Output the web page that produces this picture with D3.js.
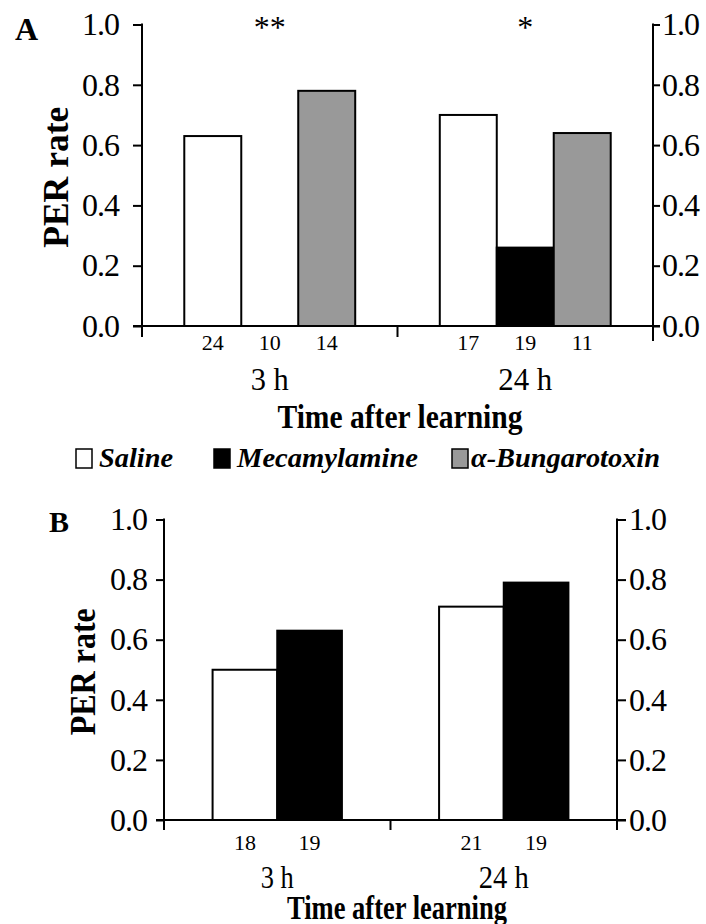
<!DOCTYPE html>
<html><head><meta charset="utf-8">
<script src="https://cdn.jsdelivr.net/npm/d3@7"></script>
<style>
body{margin:0;background:#fff}
svg{display:block}
svg text{font-family:"Liberation Serif","Times New Roman",Times,Tinos,serif}
</style>
</head><body><svg id="c" width="706" height="924"></svg>
<script>
// ---- data ----
const categories = ["3 h", "24 h"];
const seriesA = ["Saline", "Mecamylamine", "α-Bungarotoxin"];
const seriesB = ["Saline", "Mecamylamine"];
const salineA = [0.63, 0.70];
const mecamylamineA = [0.00, 0.26];
const bungarotoxinA = [0.78, 0.64];
const nA = [[24, 10, 14], [17, 19, 11]];
const significanceA = ["**", "*"];
const salineB = [0.50, 0.71];
const mecamylamineB = [0.63, 0.79];
const nB = [[18, 19], [21, 19]];
const yTicks = [0, 0.2, 0.4, 0.6, 0.8, 1.0];
const legendItems = ["Saline", "Mecamylamine", "α-Bungarotoxin"];

// ---- styles ----
const colors = {"Saline": "#ffffff", "Mecamylamine": "#000000", "α-Bungarotoxin": "#999999"};

const svg = d3.select("#c");

const layoutA = {x0: 142, x1: 653, yTop: 24.5, yBot: 326, inner: 0.669,
  lt: 9, lp: 14, rt: 7, rp: 2, extL: 11, extR: 15, extM: 11,
  label: "A", labelX: 15, labelY: 40, labelSize: 32,
  perX: 68, perLen: 141, nY: 350, catY: 390, catLens: [38, 54],
  titleX: 400, titleY: 428, titleLen: 245};
const layoutB = {x0: 164, x1: 617, yTop: 519.5, yBot: 820, inner: 0.571,
  lt: 8, lp: 9, rt: 9, rp: 3, extL: 10, extR: 10, extM: 10,
  label: "B", labelX: 49, labelY: 532, labelSize: 30,
  perX: 95, perLen: 127, nY: 850, catY: 888, catLens: [33, 50],
  titleX: 397, titleY: 919, titleLen: 220};

function drawPanel(L, series, values, counts, stars) {
  const g = svg.append("g");
  const y = d3.scaleLinear().domain([0, 1]).range([L.yBot, L.yTop]);
  const x0 = d3.scaleBand().domain(categories).range([L.x0, L.x1]).padding(0);
  const gw = x0.bandwidth();
  const x1 = d3.scaleBand().domain(series).range([0, gw * L.inner]).padding(0);
  const off = gw * (1 - L.inner) / 2;

  const rows = [];
  categories.forEach((c, i) => series.forEach((s, j) => rows.push({c, s, v: values[j][i], n: counts[i][j]})));

  // bars
  g.selectAll("rect.bar").data(rows.filter(d => d.v > 0)).join("rect")
    .attr("x", d => x0(d.c) + off + x1(d.s))
    .attr("y", d => y(d.v))
    .attr("width", x1.bandwidth())
    .attr("height", d => y(0) - y(d.v))
    .attr("fill", d => colors[d.s])
    .attr("stroke", "#000").attr("stroke-width", 2);

  // n labels
  g.selectAll("text.n").data(rows).join("text")
    .attr("x", d => x0(d.c) + off + x1(d.s) + x1.bandwidth() / 2)
    .attr("y", L.nY)
    .attr("text-anchor", "middle")
    .style("font-size", "22px")
    .text(d => d.n);

  // axes
  const fmt = d3.format(".1f");
  const left = g.append("g").attr("transform", `translate(${L.x0},0)`)
    .call(d3.axisLeft(y).tickValues(yTicks).tickFormat(fmt).tickSize(L.lt).tickPadding(L.lp));
  const right = g.append("g").attr("transform", `translate(${L.x1},0)`)
    .call(d3.axisRight(y).tickValues(yTicks).tickFormat(fmt).tickSize(L.rt).tickPadding(L.rp));
  [left, right].forEach(a => {
    a.attr("font-family", null).attr("font-size", null);
    a.select(".domain").remove();
    a.selectAll(".tick line").attr("stroke", "#000").attr("stroke-width", 2);
    a.selectAll(".tick text").style("font-size", "32px")
      .attr("fill", "#000").style("letter-spacing", "-1px");
  });
  const line = (x1_, y1_, x2_, y2_) => g.append("line")
    .attr("x1", x1_).attr("y1", y1_).attr("x2", x2_).attr("y2", y2_)
    .attr("stroke", "#000").attr("stroke-width", 2);
  line(L.x0, y(1) - 1, L.x0, L.yBot + L.extL);
  line(L.x1, y(1) - 1, L.x1, L.yBot + L.extR);
  line(L.x0 - L.lt, L.yBot, L.x1 + L.rt, L.yBot);
  line(x0(categories[1]), L.yBot, x0(categories[1]), L.yBot + L.extM);

  // category labels
  g.selectAll("text.cat").data(categories).join("text")
    .attr("x", d => x0(d) + gw / 2)
    .attr("y", L.catY)
    .attr("text-anchor", "middle")
    .style("font-size", "32px")
    .attr("textLength", (d, i) => L.catLens[i]).attr("lengthAdjust", "spacingAndGlyphs")
    .text(d => d);

  // significance
  if (stars) {
    g.selectAll("text.star").data(categories).join("text")
      .attr("x", d => x0(d) + gw / 2)
      .attr("y", 38)
      .attr("text-anchor", "middle")
      .style("font-size", "32px")
      .text((d, i) => stars[i]);
  }

  // axis title
  g.append("text")
    .attr("x", L.titleX).attr("y", L.titleY)
    .attr("text-anchor", "middle")
    .style("font-size", "33px").style("font-weight", "bold")
    .attr("textLength", L.titleLen).attr("lengthAdjust", "spacingAndGlyphs")
    .text("Time after learning");

  // y title
  g.append("text")
    .attr("transform", `translate(${L.perX},${(L.yTop + L.yBot) / 2 + 2}) rotate(-90)`)
    .attr("text-anchor", "middle")
    .style("font-size", "36px").style("font-weight", "bold")
    .attr("textLength", L.perLen).attr("lengthAdjust", "spacingAndGlyphs")
    .text("PER rate");

  // panel letter
  g.append("text")
    .attr("x", L.labelX).attr("y", L.labelY)
    .style("font-size", L.labelSize + "px").style("font-weight", "bold")
    .text(L.label);
}

drawPanel(layoutA, seriesA, [salineA, mecamylamineA, bungarotoxinA], nA, significanceA);
drawPanel(layoutB, seriesB, [salineB, mecamylamineB], nB, null);

// legend
const legendPos = [{bx: 76, tx: 99, len: 74}, {bx: 214, tx: 237, len: 181}, {bx: 452, tx: 471, len: 189}];
const lg = svg.append("g");
legendItems.forEach((s, i) => {
  const p = legendPos[i];
  lg.append("rect").attr("x", p.bx).attr("y", 449).attr("width", 16).attr("height", 19)
    .attr("fill", colors[s]).attr("stroke", "#000").attr("stroke-width", 1.5);
  lg.append("text").attr("x", p.tx).attr("y", 467)
    .style("font-size", "28px").style("font-weight", "bold").style("font-style", "italic")
    .attr("textLength", p.len).attr("lengthAdjust", "spacingAndGlyphs")
    .text(s);
});
</script></body></html>
